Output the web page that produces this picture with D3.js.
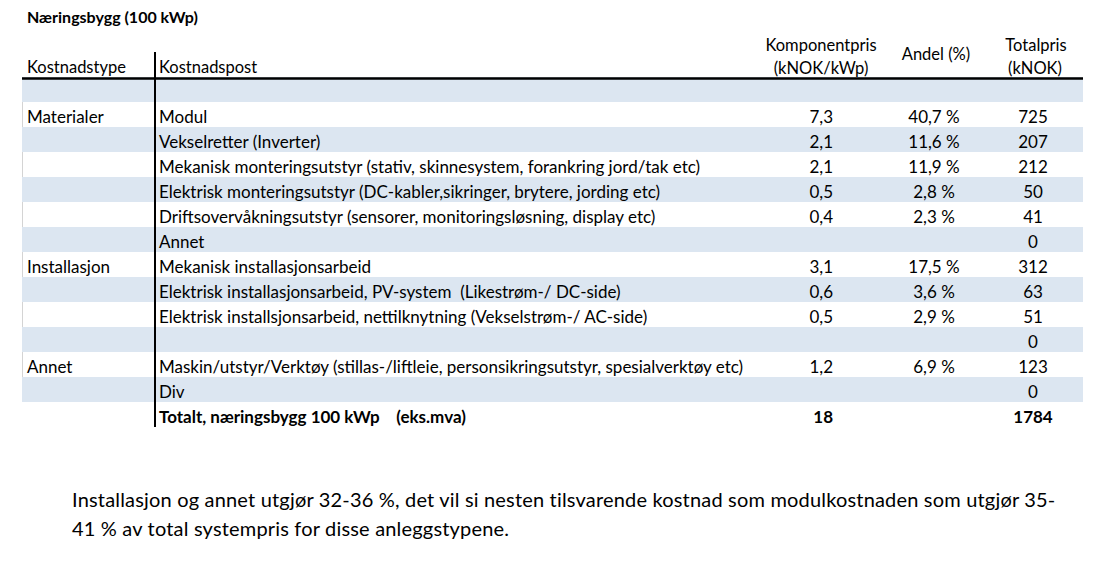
<!DOCTYPE html>
<html>
<head>
<meta charset="utf-8">
<script src="https://cdn.jsdelivr.net/npm/d3@7"></script>
<style>
  body { margin: 0; background: #fff; }
  svg { display: block; font-family: Lato, "Open Sans", sans-serif; }
</style>
</head>
<body>
<svg id="chart" width="1109" height="585"></svg>
<script>
const width = 1109, height = 585

// data
const kostnadstype = ["", "Materialer", "", "", "", "", "", "Installasjon", "", "", "", "Annet", ""]
const kostnadspost = [
  "",
  "Modul",
  "Vekselretter (Inverter)",
  "Mekanisk monteringsutstyr (stativ, skinnesystem, forankring jord/tak etc)",
  "Elektrisk monteringsutstyr (DC-kabler,sikringer, brytere, jording etc)",
  "Driftsovervåkningsutstyr (sensorer, monitoringsløsning, display etc)",
  "Annet",
  "Mekanisk installasjonsarbeid",
  "Elektrisk installasjonsarbeid, PV-system  (Likestrøm-/ DC-side)",
  "Elektrisk installsjonsarbeid, nettilknytning (Vekselstrøm-/ AC-side)",
  "",
  "Maskin/utstyr/Verktøy (stillas-/liftleie, personsikringsutstyr, spesialverktøy etc)",
  "Div"
]
const komponentpris = [null, 7.3, 2.1, 2.1, 0.5, 0.4, null, 3.1, 0.6, 0.5, null, 1.2, null]
const andel = [null, 40.7, 11.6, 11.9, 2.8, 2.3, null, 17.5, 3.6, 2.9, null, 6.9, null]
const totalpris = [null, 725, 207, 212, 50, 41, 0, 312, 63, 51, 0, 123, 0]

const totalLabel = "Totalt, næringsbygg 100 kWp    (eks.mva)"
const totalKomponent = 18
const totalSum = 1784

const title = "Næringsbygg (100 kWp)"
const note = [
  "Installasjon og annet utgjør 32-36 %, det vil si nesten tilsvarende kostnad som modulkostnaden som utgjør 35-",
  "41 % av total systempris for disse anleggstypene."
]

const nb = d3.formatLocale({decimal: ",", thousands: " ", grouping: [3], currency: ["", " kr"]})
const f1 = nb.format(".1f")

const svg = d3.select("#chart")

const rows = kostnadspost.map((p, i) => ({
  i, type: kostnadstype[i], post: p,
  komp: komponentpris[i] == null ? "" : f1(komponentpris[i]),
  andel: andel[i] == null ? "" : f1(andel[i]) + " %",
  total: totalpris[i] == null ? "" : String(totalpris[i]),
  bold: false
}))
rows.push({i: rows.length, type: "", post: totalLabel, komp: String(totalKomponent), andel: "", total: String(totalSum), bold: true})

// rad-skala
const y = d3.scaleBand()
  .domain(rows.map(d => d.i))
  .range([77, 427])

const left = 22, right = 1083, divider = 155

// skraverte rader
svg.append("g")
  .selectAll("rect")
  .data(rows.filter(d => d.i % 2 === 0 && !d.bold))
  .join("rect")
  .attr("x", left)
  .attr("y", d => y(d.i))
  .attr("width", right - left)
  .attr("height", y.bandwidth())
  .attr("fill", "#dce6f1")

// svak kant på hvite rader
svg.append("g")
  .selectAll("line")
  .data(rows.filter(d => d.i % 2 === 1 && !d.bold))
  .join("line")
  .attr("x1", left + 0.5).attr("x2", left + 0.5)
  .attr("y1", d => y(d.i)).attr("y2", d => y(d.i) + y.bandwidth())
  .attr("stroke", "#d4d4d4")

// tittel
svg.append("text")
  .text(title)
  .attr("x", 27).attr("y", 23)
  .attr("font-size", 16).attr("font-weight", "bold")

// overskrifter
const head = svg.append("g").attr("font-size", 16.5)
head.append("text").text("Kostnadstype").attr("x", 27).attr("y", 73)
head.append("text").text("Kostnadspost").attr("x", 159).attr("y", 73)
head.append("text").text("Komponentpris").attr("x", 821).attr("y", 51).attr("text-anchor", "middle")
head.append("text").text("(kNOK/kWp)").attr("x", 821).attr("y", 74).attr("text-anchor", "middle")
head.append("text").text("Andel (%)").attr("x", 936).attr("y", 60).attr("text-anchor", "middle")
head.append("text").text("Totalpris").attr("x", 1036).attr("y", 51).attr("text-anchor", "middle")
head.append("text").text("(kNOK)").attr("x", 1035).attr("y", 74).attr("text-anchor", "middle")

// linjer
svg.append("line")
  .attr("x1", left).attr("x2", right)
  .attr("y1", 78.5).attr("y2", 78.5)
  .attr("stroke", "#000").attr("stroke-width", 2.5)
svg.append("line")
  .attr("x1", divider).attr("x2", divider)
  .attr("y1", 52).attr("y2", 427)
  .attr("stroke", "#000").attr("stroke-width", 2)

// celler
const cols = [
  {key: "type", x: 27, anchor: "start"},
  {key: "post", x: 159, anchor: "start"},
  {key: "komp", x: 833, anchor: "end"},
  {key: "andel", x: 934, anchor: "middle"},
  {key: "total", x: 1033, anchor: "middle"}
]

const rowG = svg.append("g")
  .attr("font-size", 17)
  .selectAll("g")
  .data(rows)
  .join("g")
  .attr("transform", d => `translate(0, ${y(d.i) + 20.5})`)
  .attr("font-weight", d => d.bold ? "bold" : "normal")

cols.forEach(c => {
  rowG.append("text")
    .text(d => d[c.key])
    .attr("x", c.x)
    .attr("text-anchor", c.anchor)
    .style("white-space", "pre")
})

// notat
svg.append("g")
  .attr("font-size", 20)
  .attr("letter-spacing", 0.18)
  .selectAll("text")
  .data(note)
  .join("text")
  .text(d => d)
  .attr("x", 72)
  .attr("y", (d, i) => 507 + i * 29)
</script>
</body>
</html>
